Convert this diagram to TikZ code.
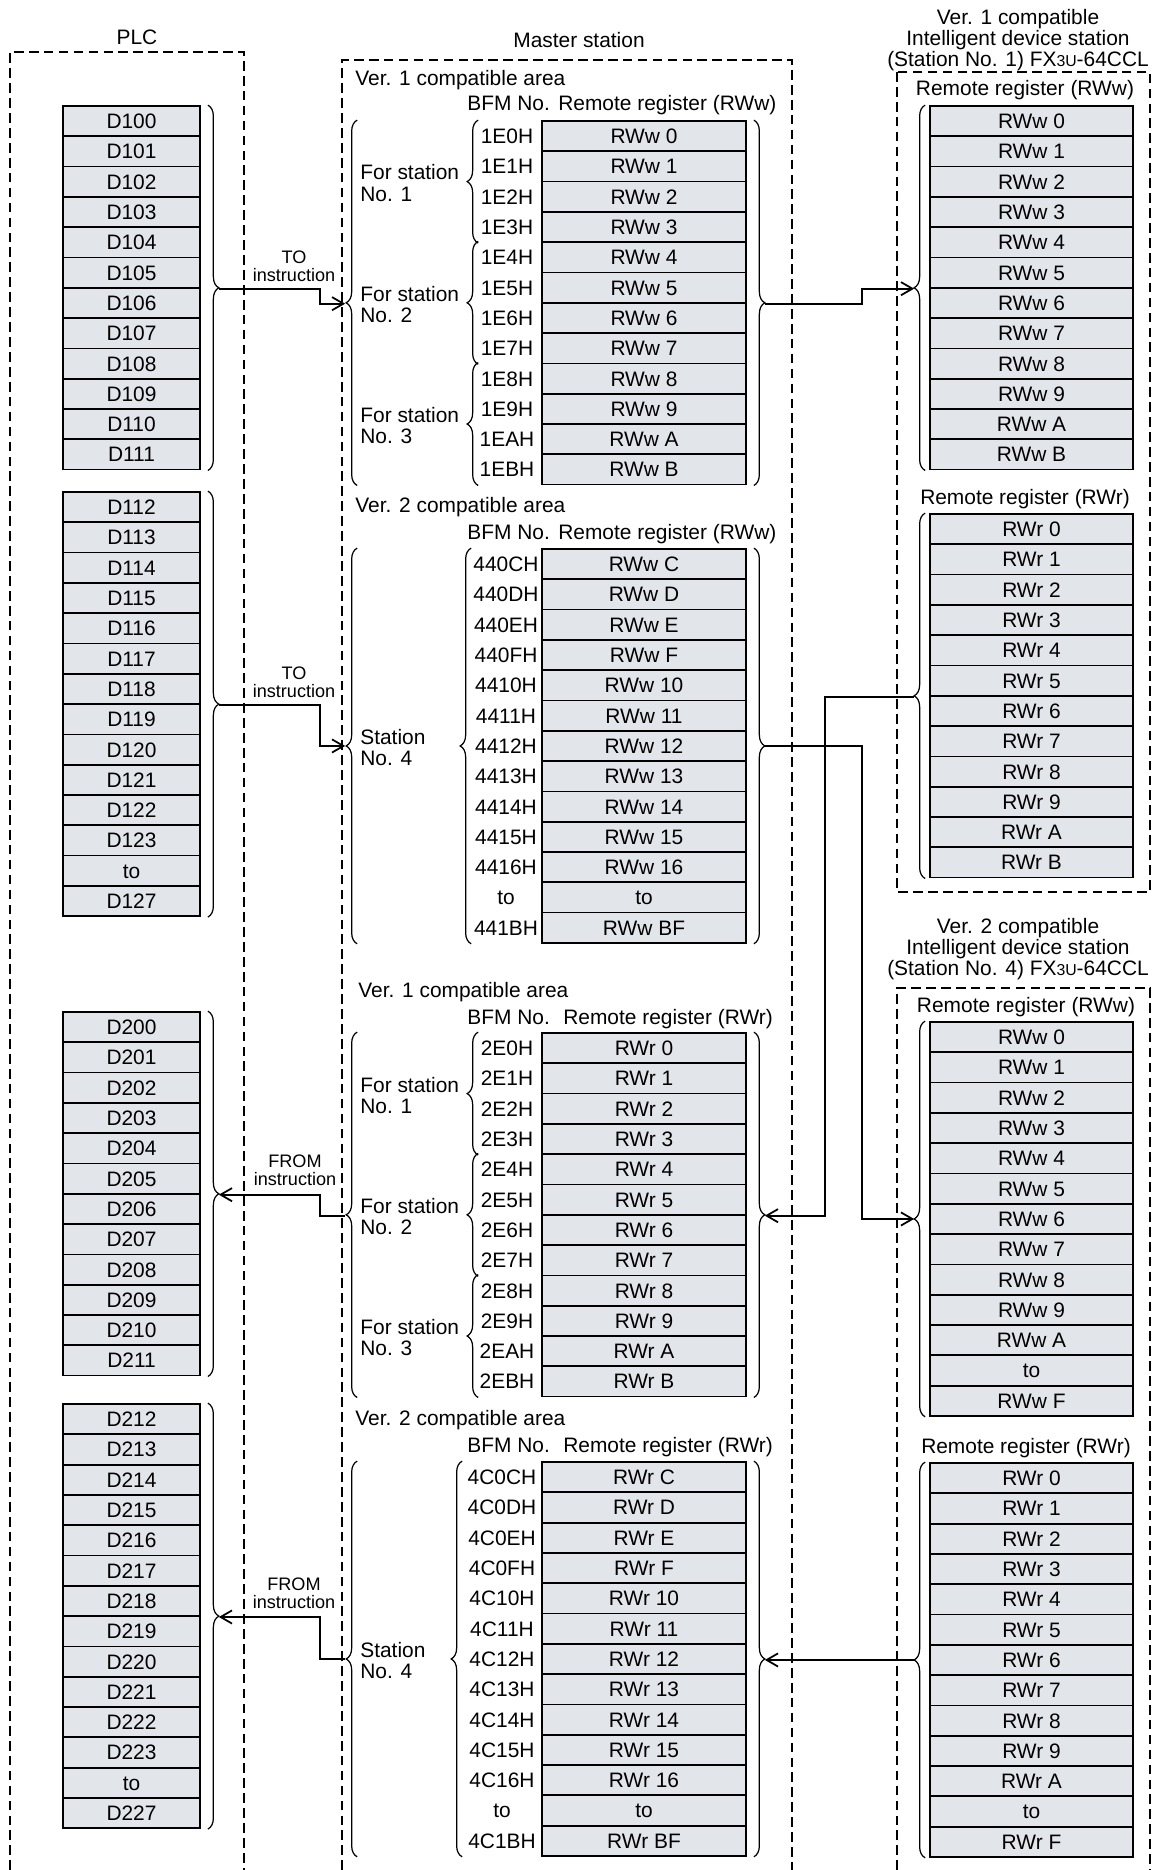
\documentclass[tikz,border=0pt]{standalone}
\usepackage{fontspec}
\setmainfont{Liberation Sans}
\usetikzlibrary{arrows.meta, decorations.pathreplacing}
\usepackage{xcolor}
\definecolor{cellgray}{RGB}{226,229,234}
\newcommand{\fxname}{FX{\fontsize{9}{9}\selectfont 3U}-64CCL}

\begin{document}
\begin{tikzpicture}[
    x=0.02cm, y=-0.02cm,
    font=\fontsize{11.9}{12.5}\selectfont,
    cell/.style={rectangle, draw, line width=1pt, fill=cellgray, inner sep=0pt, minimum height=0.606cm, text height=8.5pt, text depth=0pt},
    plccell/.style={cell, minimum width=2.74cm},
    regcell/.style={cell, minimum width=4.08cm},
    devcell/.style={cell, minimum width=4.06cm},
    addr/.style={inner sep=0pt, text height=8.5pt, text depth=0pt},
    hdr/.style={inner sep=0pt, text height=8.5pt, text depth=0pt},
    grp/.style={inner sep=0pt, align=left, anchor=west},
    instr/.style={inner sep=0pt, align=center, font=\fontsize{10.3}{10.4}\selectfont},
    ttl/.style={inner sep=0pt, align=center, font=\fontsize{11.9}{12}\selectfont},
    area/.style={draw, line width=1pt, dash pattern=on 5.5pt off 3pt},
    brc/.style={draw, line width=0.7pt, decorate, decoration={brace, amplitude=0.22cm}},
    arrow/.style={draw, line width=1pt, -{Straight Barb[length=6.5pt, width=7.5pt, line width=1pt]}}
]
\useasboundingbox (0,0) rectangle (1162,1870);

% Areas
\draw[area] (10,1870) -- (10,52) -- (244,52) -- (244,1870);
\draw[area] (342,1870) -- (342,60) -- (792,60) -- (792,1870);
\draw[area] (897,72) rectangle (1150,892);
\draw[area] (897,1870) -- (897,988) -- (1150,988) -- (1150,1870);

% Titles
\node (plc) at (137,37) {PLC};
\node (mst) at (579,40) {Master station};
\node[ttl] (dev1) at (1018,40) {Ver. 1 compatible\\Intelligent device station\\(Station No. 1) \fxname};
\node[ttl] (dev2) at (1018,949) {Ver. 2 compatible\\Intelligent device station\\(Station No. 4) \fxname};

% PLC
\foreach \t [count=\i] in {D100,D101,D102,D103,D104,D105,D106,D107,D108,D109,D110,D111}
    \node[plccell] (pa\i) at (131.5,{106+(\i-0.5)*30.3}) {\t};
\foreach \t [count=\i] in {D112,D113,D114,D115,D116,D117,D118,D119,D120,D121,D122,D123,to,D127}
    \node[plccell] (pb\i) at (131.5,{492+(\i-0.5)*30.3}) {\t};
\foreach \t [count=\i] in {D200,D201,D202,D203,D204,D205,D206,D207,D208,D209,D210,D211}
    \node[plccell] (pc\i) at (131.5,{1012+(\i-0.5)*30.3}) {\t};
\foreach \t [count=\i] in {D212,D213,D214,D215,D216,D217,D218,D219,D220,D221,D222,D223,to,D227}
    \node[plccell] (pd\i) at (131.5,{1404+(\i-0.5)*30.3}) {\t};

% Master station, RWw
\node[hdr, anchor=west] (va1) at (355,78) {Ver. 1 compatible area};
\node[hdr, anchor=west] (bfa) at (467,103) {BFM No.};
\node[hdr, anchor=west] (rga) at (558,103) {Remote register (RWw)};
\foreach \t [count=\i] in {RWw 0,RWw 1,RWw 2,RWw 3,RWw 4,RWw 5,RWw 6,RWw 7,RWw 8,RWw 9,RWw A,RWw B}
    \node[regcell] (wa\i) at (644,{121+(\i-0.5)*30.3}) {\t};
\foreach \t [count=\i] in {1E0H,1E1H,1E2H,1E3H,1E4H,1E5H,1E6H,1E7H,1E8H,1E9H,1EAH,1EBH}
    \node[addr] (bwa\i) at (507,{121+(\i-0.5)*30.3}) {\t};
\node[grp] (sa1) at (360,183.5) {For station\\No. 1};
\node[grp] (sa2) at (360,304.5) {For station\\No. 2};
\node[grp] (sa3) at (360,425.5) {For station\\No. 3};

\node[hdr, anchor=west] (va2) at (355,505) {Ver. 2 compatible area};
\node[hdr, anchor=west] (bfb) at (467,532) {BFM No.};
\node[hdr, anchor=west] (rgb) at (558,532) {Remote register (RWw)};
\foreach \t [count=\i] in {RWw C,RWw D,RWw E,RWw F,RWw 10,RWw 11,RWw 12,RWw 13,RWw 14,RWw 15,RWw 16,to,RWw BF}
    \node[regcell] (wb\i) at (644,{549+(\i-0.5)*30.3}) {\t};
\foreach \t [count=\i] in {440CH,440DH,440EH,440FH,4410H,4411H,4412H,4413H,4414H,4415H,4416H,to,441BH}
    \node[addr] (bwb\i) at (506,{549+(\i-0.5)*30.3}) {\t};
\node[grp] (sb4) at (360,747.5) {Station\\No. 4};

% Master station, RWr
\node[hdr, anchor=west] (va3) at (358,990) {Ver. 1 compatible area};
\node[hdr, anchor=west] (bfc) at (467,1017) {BFM No.};
\node[hdr, anchor=west] (rgc) at (563,1017) {Remote register (RWr)};
\foreach \t [count=\i] in {RWr 0,RWr 1,RWr 2,RWr 3,RWr 4,RWr 5,RWr 6,RWr 7,RWr 8,RWr 9,RWr A,RWr B}
    \node[regcell] (ra\i) at (644,{1033+(\i-0.5)*30.3}) {\t};
\foreach \t [count=\i] in {2E0H,2E1H,2E2H,2E3H,2E4H,2E5H,2E6H,2E7H,2E8H,2E9H,2EAH,2EBH}
    \node[addr] (bra\i) at (507,{1033+(\i-0.5)*30.3}) {\t};
\node[grp] (sc1) at (360,1095.5) {For station\\No. 1};
\node[grp] (sc2) at (360,1216.5) {For station\\No. 2};
\node[grp] (sc3) at (360,1337.5) {For station\\No. 3};

\node[hdr, anchor=west] (va4) at (355,1418) {Ver. 2 compatible area};
\node[hdr, anchor=west] (bfd) at (467,1445) {BFM No.};
\node[hdr, anchor=west] (rgd) at (563,1445) {Remote register (RWr)};
\foreach \t [count=\i] in {RWr C,RWr D,RWr E,RWr F,RWr 10,RWr 11,RWr 12,RWr 13,RWr 14,RWr 15,RWr 16,to,RWr BF}
    \node[regcell] (rb\i) at (644,{1462+(\i-0.5)*30.3}) {\t};
\foreach \t [count=\i] in {4C0CH,4C0DH,4C0EH,4C0FH,4C10H,4C11H,4C12H,4C13H,4C14H,4C15H,4C16H,to,4C1BH}
    \node[addr] (brb\i) at (502,{1462+(\i-0.5)*30.3}) {\t};
\node[grp] (sd4) at (360,1660.5) {Station\\No. 4};

% Intelligent device stations
\node[hdr] (rgw1) at (1025,88) {Remote register (RWw)};
\foreach \t [count=\i] in {RWw 0,RWw 1,RWw 2,RWw 3,RWw 4,RWw 5,RWw 6,RWw 7,RWw 8,RWw 9,RWw A,RWw B}
    \node[devcell] (dwa\i) at (1031.5,{106+(\i-0.5)*30.3}) {\t};
\node[hdr] (rgr1) at (1025,497) {Remote register (RWr)};
\foreach \t [count=\i] in {RWr 0,RWr 1,RWr 2,RWr 3,RWr 4,RWr 5,RWr 6,RWr 7,RWr 8,RWr 9,RWr A,RWr B}
    \node[devcell] (dra\i) at (1031.5,{514+(\i-0.5)*30.3}) {\t};
\node[hdr] (rgw2) at (1026,1005) {Remote register (RWw)};
\foreach \t [count=\i] in {RWw 0,RWw 1,RWw 2,RWw 3,RWw 4,RWw 5,RWw 6,RWw 7,RWw 8,RWw 9,RWw A,to,RWw F}
    \node[devcell] (dwb\i) at (1031.5,{1022+(\i-0.5)*30.3}) {\t};
\node[hdr] (rgr2) at (1026,1446) {Remote register (RWr)};
\foreach \t [count=\i] in {RWr 0,RWr 1,RWr 2,RWr 3,RWr 4,RWr 5,RWr 6,RWr 7,RWr 8,RWr 9,RWr A,to,RWr F}
    \node[devcell] (drb\i) at (1031.5,{1463+(\i-0.5)*30.3}) {\t};
\node[instr] (to1) at (294,266) {TO\\instruction};
\node[instr] (to2) at (294,682) {TO\\instruction};
\node[instr] (fr1) at (295,1170) {FROM\\instruction};
\node[instr] (fr2) at (294,1593) {FROM\\instruction};

% Braces
\draw[brc] ([xshift=0.14cm]pa1.north east) -- ([xshift=0.14cm]pa12.south east);
\draw[brc] ([xshift=0.14cm]pb1.north east) -- ([xshift=0.14cm]pb14.south east);
\draw[brc] ([xshift=0.14cm]pc1.north east) -- ([xshift=0.14cm]pc12.south east);
\draw[brc] ([xshift=0.14cm]pd1.north east) -- ([xshift=0.14cm]pd14.south east);

\draw[brc] ([xshift=-3.68cm]wa12.south west) -- ([xshift=-3.68cm]wa1.north west);
\draw[brc] ([xshift=-1.26cm]wa4.south west) -- ([xshift=-1.26cm]wa1.north west);
\draw[brc] ([xshift=-1.26cm]wa8.south west) -- ([xshift=-1.26cm]wa5.north west);
\draw[brc] ([xshift=-1.26cm]wa12.south west) -- ([xshift=-1.26cm]wa9.north west);
\draw[brc] ([xshift=0.14cm]wa1.north east) -- ([xshift=0.14cm]wa12.south east);

\draw[brc] ([xshift=-3.68cm]wb13.south west) -- ([xshift=-3.68cm]wb1.north west);
\draw[brc] ([xshift=-1.4cm]wb13.south west) -- ([xshift=-1.4cm]wb1.north west);
\draw[brc] ([xshift=0.14cm]wb1.north east) -- ([xshift=0.14cm]wb13.south east);

\draw[brc] ([xshift=-3.68cm]ra12.south west) -- ([xshift=-3.68cm]ra1.north west);
\draw[brc] ([xshift=-1.26cm]ra4.south west) -- ([xshift=-1.26cm]ra1.north west);
\draw[brc] ([xshift=-1.26cm]ra8.south west) -- ([xshift=-1.26cm]ra5.north west);
\draw[brc] ([xshift=-1.26cm]ra12.south west) -- ([xshift=-1.26cm]ra9.north west);
\draw[brc] ([xshift=0.14cm]ra1.north east) -- ([xshift=0.14cm]ra12.south east);

\draw[brc] ([xshift=-3.68cm]rb13.south west) -- ([xshift=-3.68cm]rb1.north west);
\draw[brc] ([xshift=-1.58cm]rb13.south west) -- ([xshift=-1.58cm]rb1.north west);
\draw[brc] ([xshift=0.14cm]rb1.north east) -- ([xshift=0.14cm]rb13.south east);

\draw[brc] ([xshift=-0.08cm]dwa12.south west) -- ([xshift=-0.08cm]dwa1.north west);
\draw[brc] ([xshift=-0.08cm]dra12.south west) -- ([xshift=-0.08cm]dra1.north west);
\draw[brc] ([xshift=-0.08cm]dwb13.south west) -- ([xshift=-0.08cm]dwb1.north west);
\draw[brc] ([xshift=-0.08cm]drb13.south west) -- ([xshift=-0.08cm]drb1.north west);

% Brace tips
\coordinate (tpa) at ([xshift=0.36cm]pa6.south east);
\coordinate (tpb) at ([xshift=0.36cm]pb7.south east);
\coordinate (tpc) at ([xshift=0.36cm]pc6.south east);
\coordinate (tpd) at ([xshift=0.36cm]pd7.south east);
\coordinate (twaL) at ([xshift=-3.92cm]wa6.south west);
\coordinate (twaR) at ([xshift=0.36cm]wa6.south east);
\coordinate (twbL) at ([xshift=-3.92cm]wb7.west);
\coordinate (twbR) at ([xshift=0.36cm]wb7.east);
\coordinate (traL) at ([xshift=-3.92cm]ra6.south west);
\coordinate (traR) at ([xshift=0.36cm]ra6.south east);
\coordinate (trbL) at ([xshift=-3.92cm]rb7.west);
\coordinate (trbR) at ([xshift=0.36cm]rb7.east);
\coordinate (tdwa) at ([xshift=-0.3cm]dwa6.south west);
\coordinate (tdra) at ([xshift=-0.3cm]dra6.south west);
\coordinate (tdwb) at ([xshift=-0.3cm]dwb7.west);
\coordinate (tdrb) at ([xshift=-0.3cm]drb7.west);
\coordinate (jogL) at (320,0);
\coordinate (jogA) at (862,0);
\coordinate (jogB) at (825,0);

% Arrows
\draw[arrow] (tpa) -- (tpa -| jogL) |- (twaL);
\draw[arrow] (tpb) -- (tpb -| jogL) |- (twbL);
\draw[arrow] (traL) -- (traL -| jogL) |- (tpc);
\draw[arrow] (trbL) -- (trbL -| jogL) |- (tpd);
\draw[arrow] (twaR) -- (twaR -| jogA) |- (tdwa);
\draw[arrow] (twbR) -- (twbR -| jogA) |- (tdwb);
\draw[arrow] (tdra) -- (tdra -| jogB) |- (traR);
\draw[arrow] (tdrb) -- (tdrb -| trbR);

\end{tikzpicture}
\end{document}
